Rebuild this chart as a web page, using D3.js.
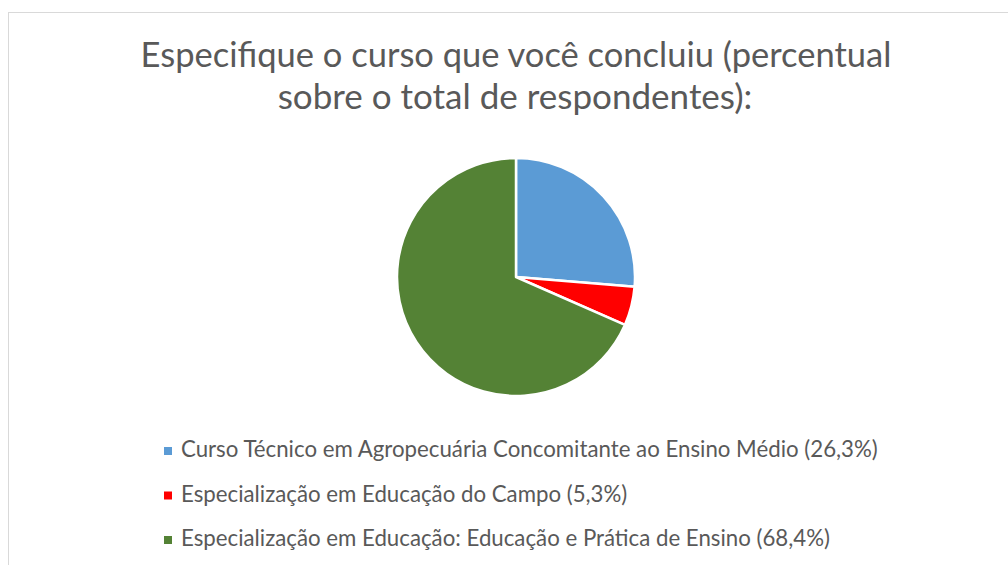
<!DOCTYPE html>
<html>
<head>
<meta charset="utf-8">
<script src="https://cdn.jsdelivr.net/npm/d3@7"></script>
<style>
  body { margin: 0; background: #fff; }
  text { font-family: Lato, "Open Sans", sans-serif; fill: #595959; }
</style>
</head>
<body>
<div id="chart"></div>
<script>
// Data
var categories = [
  "Curso Técnico em Agropecuária Concomitante ao Ensino Médio (26,3%)",
  "Especialização em Educação do Campo (5,3%)",
  "Especialização em Educação: Educação e Prática de Ensino (68,4%)"
];
var values = [26.3, 5.3, 68.4];
var colors = ["#5B9BD5", "#FF0000", "#548235"];
var titleLines = [
  "Especifique o curso que você concluiu (percentual",
  "sobre o total de respondentes):"
];

var svgWidth = 1008;
var svgHeight = 565;

var svg = d3.select("#chart")
  .append("svg")
  .attr("width", svgWidth)
  .attr("height", svgHeight);

// chart border (runs off the right and bottom)
svg.append("rect")
  .attr("x", 8.5)
  .attr("y", 12.5)
  .attr("width", 1100)
  .attr("height", 700)
  .attr("fill", "none")
  .attr("stroke", "#d9d9d9");

// shrink/grow font so the text takes the given width
function fitWidth(sel, target) {
  var node = sel.node();
  var size = parseFloat(sel.attr("font-size"));
  var w = node.getComputedTextLength();
  sel.attr("font-size", size * target / w);
}

// Title
var title = svg.append("g");
title.append("text")
  .attr("x", 516).attr("y", 67)
  .attr("text-anchor", "middle")
  .attr("font-size", 32)
  .text(titleLines[0])
  .call(fitWidth, 751);
title.append("text")
  .attr("x", 515).attr("y", 109)
  .attr("text-anchor", "middle")
  .attr("font-size", 32)
  .text(titleLines[1])
  .call(fitWidth, 475);

// Pie
var radius = 119;
var pieGroup = svg.append("g")
  .attr("transform", "translate(516, 277)");

var pie = d3.pie().sort(null).value(function(d) { return d; });
var arc = d3.arc().innerRadius(0).outerRadius(radius);

pieGroup.selectAll("path")
  .data(pie(values))
  .enter()
  .append("path")
  .attr("d", arc)
  .attr("fill", function(d, i) { return colors[i]; })
  .attr("stroke", "#fff")
  .attr("stroke-width", 2.5)
  .attr("stroke-linejoin", "round");

// Legend
var legend = svg.append("g")
  .attr("transform", "translate(164, 451)");

var rowH = 44.5;
var items = legend.selectAll("g")
  .data(categories)
  .enter()
  .append("g")
  .attr("transform", function(d, i) { return "translate(0," + (i * rowH) + ")"; });

items.append("rect")
  .attr("x", 0).attr("y", -4)
  .attr("width", 8).attr("height", 8)
  .attr("fill", function(d, i) { return colors[i]; });

var legendText = items.append("text")
  .attr("x", 17).attr("y", 6)
  .attr("font-size", 20)
  .text(function(d) { return d; });

// size the legend font from the first (longest measured) row
var fs = 20 * 697 / legendText.nodes()[0].getComputedTextLength();
legendText.attr("font-size", fs);
</script>
</body>
</html>
